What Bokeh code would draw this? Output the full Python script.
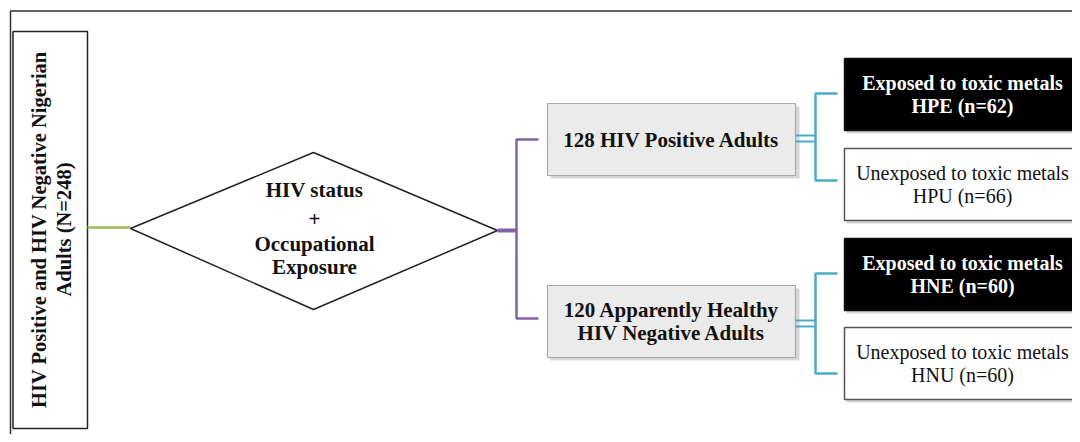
from math import pi
from bokeh.plotting import figure
from bokeh.models import Range1d
from bokeh.core.properties import value
from bokeh.embed import file_html
from bokeh.resources import INLINE

# ---- data ----
total_n = 248
group_labels = ["128 HIV Positive Adults", "120 Apparently Healthy\nHIV Negative Adults"]
group_n = [128, 120]
sub_codes = ["HPE", "HPU", "HNE", "HNU"]
sub_n = [62, 66, 60, 60]
sub_exposed = [True, False, True, False]
diamond_lines = ["HIV status", "+", "Occupational", "Exposure"]
root_lines = ["HIV Positive and HIV Negative Nigerian", "Adults (N=%d)" % total_n]

FONT = value("Liberation Serif")

p = figure(width=1072, height=434, output_backend="svg", toolbar_location=None,
           x_range=Range1d(0, 1072), y_range=Range1d(434, 0), min_border=0)
p.axis.visible = False
p.grid.visible = False
p.outline_line_color = None
p.background_fill_color = "white"

# outer frame
p.line([10, 10, 1100], [460, 10.5, 10.5], line_color="#333333", line_width=1.5)

# root box
p.quad(left=[12.5], right=[87], top=[31], bottom=[428], fill_color="white",
       line_color="#222222", line_width=1.5)
p.text(x=[38, 63], y=[229, 229], text=root_lines, angle=pi / 2,
       text_align="center", text_baseline="middle", text_font=FONT,
       text_font_style="bold", text_font_size="20.5px", text_color="#111111")

# green connector
p.line([87, 130], [227, 227], line_color="#9bbb59", line_width=2.5)

# diamond
p.patch([130, 313, 497, 313], [228, 152, 230, 309], fill_color="white",
        line_color="#222222", line_width=1.5)
p.text(x=[314] * 4, y=[189, 218, 243, 266], text=diamond_lines,
       text_align="center", text_baseline="middle", text_font=FONT,
       text_font_style="bold", text_font_size="21px", text_color="#111111")

# purple bracket
purple = "#8064a2"
p.line([497, 516], [230, 230], line_color=purple, line_width=4)
p.line([538, 516, 516, 538], [139, 139, 318, 318], line_color=purple, line_width=2.5)

# middle group boxes
gb_top = [103, 285]
gb_cy = [139, 321]
for i, (lab, n) in enumerate(zip(group_labels, group_n)):
    t = gb_top[i]
    p.quad(left=[550], right=[799], top=[t + 3], bottom=[t + 75], fill_color="#bdbdbd",
           fill_alpha=0.6, line_color=None)
    p.quad(left=[547], right=[795], top=[t], bottom=[t + 72], fill_color="#ebebeb",
           line_color="#aaaaaa", line_width=1.2)
    lines = lab.split("\n")
    if len(lines) == 1:
        ys = [gb_cy[i]]
    else:
        ys = [gb_cy[i] - 11.5, gb_cy[i] + 11.5]
    p.text(x=[671] * len(lines), y=ys, text=lines, text_align="center",
           text_baseline="middle", text_font=FONT, text_font_style="bold",
           text_font_size="21px", text_color="#111111")

# blue brackets
blue = "#4bacc6"
for cy, y1, y2 in [(138, 93, 180), (323, 273, 373)]:
    p.line([795, 815], [cy - 3, cy - 3], line_color=blue, line_width=2)
    p.line([795, 815], [cy + 3, cy + 3], line_color=blue, line_width=2)
    p.line([837, 815, 815, 837], [y1, y1, y2, y2], line_color=blue, line_width=2.5)

# sub boxes
sb_top = [58, 148, 238, 327]
for i, (code, n, exp) in enumerate(zip(sub_codes, sub_n, sub_exposed)):
    t = sb_top[i]
    p.quad(left=[846], right=[1100], top=[t + 2], bottom=[t + 75], fill_color="#bbbbbb",
           fill_alpha=0.6, line_color=None)
    p.quad(left=[844], right=[1100], top=[t], bottom=[t + 72],
           fill_color="black" if exp else "white",
           line_color="#111111" if exp else "#555555", line_width=1.5)
    l1 = ("Exposed" if exp else "Unexposed") + " to toxic metals"
    l2 = "%s (n=%d)" % (code, n)
    p.text(x=[962, 962], y=[t + 24, t + 47], text=[l1, l2], text_align="center",
           text_baseline="middle", text_font=FONT,
           text_font_style="bold" if exp else "normal", text_font_size="20px",
           text_color="white" if exp else "#111111")

open("out.html", "w").write(file_html(p, INLINE))
